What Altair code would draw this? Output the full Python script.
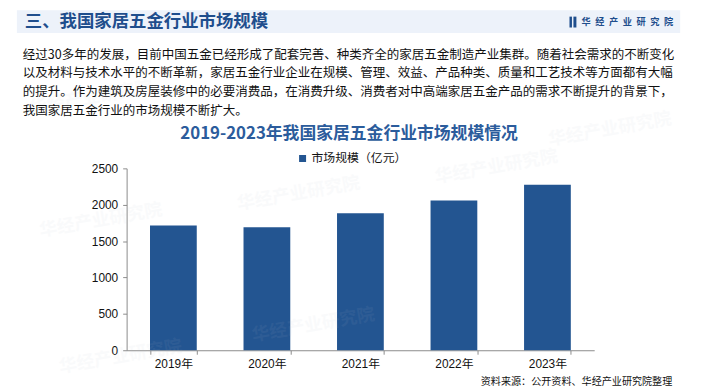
import altair as alt
import pandas as pd

# ---- data ----
years = ["2019年", "2020年", "2021年", "2022年", "2023年"]
values = [1716, 1689, 1884, 2057, 2275]
series_name = "市场规模（亿元）"
y_ticks = [0, 500, 1000, 1500, 2000, 2500]

header_title = "三、我国家居五金行业市场规模"
logo_text = "华\u2002经\u2002产\u2002业\u2002研\u2002究\u2002院"
paragraph = [
    "经过30多年的发展，目前中国五金已经形成了配套完善、种类齐全的家居五金制造产业集群。随着社会需求的不断变化",
    "以及材料与技术水平的不断革新，家居五金行业企业在规模、管理、效益、产品种类、质量和工艺技术等方面都有大幅",
    "的提升。作为建筑及房屋装修中的必要消费品，在消费升级、消费者对中高端家居五金产品的需求不断提升的背景下，",
    "我国家居五金行业的市场规模不断扩大。",
]
chart_title = "2019-2023年我国家居五金行业市场规模情况"
source_text = "资料来源：公开资料、华经产业研究院整理"
watermark = "华经产业研究院"

BAR = "#235591"
DARK = "#1F4E8D"
CJK = "Noto Sans CJK SC"
NUM = "Liberation Sans, Noto Sans CJK SC"

df = pd.DataFrame({"year": years, "value": values, "series": [series_name] * len(years)})
one = alt.Data(values=[{"a": 1}])

# origin of plot area is at page (128,168)
OX, OY = 128, 168


def px(x):
    return x - OX


def py(y):
    return y - OY


layers = []

# header band
layers.append(
    alt.Chart(one).mark_rect(color="#EDF2FA").encode(
        x=alt.value(px(17)), x2=alt.value(px(688)), y=alt.value(py(8)), y2=alt.value(py(31))
    )
)

# watermarks (very faint)
wm_pos = [(30, 108), (240, 205), (440, 178), (40, 232), (60, 370), (255, 338), (555, 140)]
for (wx, wy) in wm_pos:
    layers.append(
        alt.Chart(one).mark_text(
            text=watermark, font=CJK, fontSize=18, fontWeight="bold", color="#b8c0cc",
            opacity=0.07, angle=350, align="left", baseline="middle"
        ).encode(x=alt.value(px(wx)), y=alt.value(py(wy)))
    )

# header title
layers.append(
    alt.Chart(one).mark_text(
        text=header_title, font=CJK, fontSize=17.6, fontWeight="bold", color=DARK,
        align="left", baseline="middle"
    ).encode(x=alt.value(px(25)), y=alt.value(py(20)))
)
# logo icon
for (a, b) in [(576, 578.5), (580, 583)]:
    layers.append(
        alt.Chart(one).mark_rect(color=DARK).encode(
            x=alt.value(px(a)), x2=alt.value(px(b)), y=alt.value(py(14.5)), y2=alt.value(py(25.5))
        )
    )
layers.append(
    alt.Chart(one).mark_text(
        text=logo_text, font=CJK, fontSize=9.3, fontWeight="bold", color=DARK,
        align="right", baseline="middle"
    ).encode(x=alt.value(px(681)), y=alt.value(py(20)))
)

# paragraph
for i, line in enumerate(paragraph):
    layers.append(
        alt.Chart(one).mark_text(
            text=line, font=CJK, fontSize=12.65, color="#111111",
            align="left", baseline="middle"
        ).encode(x=alt.value(px(23)), y=alt.value(py(53 + i * 19)))
    )

# chart title
layers.append(
    alt.Chart(one).mark_text(
        text=chart_title, font=CJK, fontSize=17, fontWeight="bold", color="#2B5C9C",
        align="center", baseline="middle"
    ).encode(x=alt.value(px(353)), y=alt.value(py(133)))
)

# source
layers.append(
    alt.Chart(one).mark_text(
        text=source_text, font=CJK, fontSize=10.2, color="#111111",
        align="right", baseline="middle"
    ).encode(x=alt.value(px(680)), y=alt.value(py(384)))
)

bars = alt.Chart(df).mark_bar().encode(
    x=alt.X(
        "year:N", sort=years,
        scale=alt.Scale(paddingInner=0.5, paddingOuter=0.25),
        axis=alt.Axis(
            title=None, labelAngle=0, tickBand="extent", tickSize=4, tickColor="#8c8c8c",
            domainColor="#8c8c8c", labelFont=NUM, labelFontSize=12, labelColor="#111111",
            labelPadding=4, grid=False,
        ),
    ),
    y=alt.Y(
        "value:Q",
        scale=alt.Scale(domain=[0, 2500], nice=False),
        axis=alt.Axis(
            title=None, values=y_ticks, format="d", tickSize=4, tickColor="#8c8c8c",
            domainColor="#8c8c8c", labelFont=NUM, labelFontSize=12, labelColor="#111111",
            labelPadding=5, grid=False,
        ),
    ),
    color=alt.Color(
        "series:N",
        scale=alt.Scale(range=[BAR]),
        legend=alt.Legend(
            title=None, orient="none", legendX=172, legendY=-16, symbolType="square",
            symbolSize=50, symbolStrokeWidth=0, labelFont=CJK, labelFontSize=12,
            labelColor="#111111", symbolOffset=0, labelOffset=3,
        ),
    ),
)

chart = alt.layer(bars, *layers).properties(
    width=473,
    height=184,
    padding={"left": 120, "top": 160, "right": 104, "bottom": 40},
    autosize=alt.AutoSizeParams(type="none"),
    background="white",
).configure_view(stroke=None)

chart.save("out.html", embed_options={"renderer": "svg", "actions": False})
